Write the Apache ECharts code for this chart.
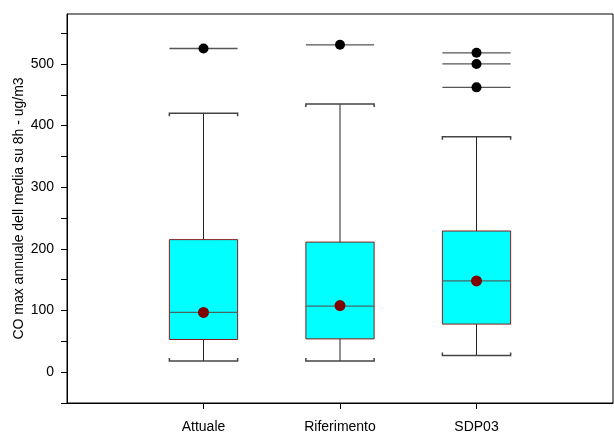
<!DOCTYPE html>
<html><head><meta charset="utf-8">
<script src="https://cdn.jsdelivr.net/npm/echarts@6/dist/echarts.min.js"></script>
<style>html,body{margin:0;padding:0;background:#fff}#c{width:614px;height:446px}</style>
</head><body><div id="c"></div>
<script>
const categories = ['Attuale', 'Riferimento', 'SDP03'];
const whiskerLow = [18, 18, 27];
const q1 = [53, 54, 78];
const median = [97, 107, 148];
const q3 = [215, 211, 229];
const whiskerHigh = [420, 435, 382];
const means = [97, 108, 148];
const outliers = [[525], [531], [518, 500, 462]];
const yLabelValues = [0, 100, 200, 300, 400, 500];
const yTickValues = [-50, 0, 50, 100, 150, 200, 250, 300, 350, 400, 450, 500, 550];
const yTitle = 'CO max annuale dell media su 8h - ug/m3';

const FONT = '"Liberation Sans", Arial, sans-serif';
const boxData = categories.map((c, i) => [i + 1, whiskerLow[i], q1[i], median[i], q3[i], whiskerHigh[i]]);
const meanData = categories.map((c, i) => [i + 1, means[i]]);
const outData = [];
outliers.forEach((arr, i) => arr.forEach(v => outData.push([i + 1, v])));

const BOXW = 0.5;

function renderBox(params, api) {
  const x = api.value(0);
  const pLow = api.coord([x, api.value(1)]);
  const pQ1 = api.coord([x, api.value(2)]);
  const pMed = api.coord([x, api.value(3)]);
  const pQ3 = api.coord([x, api.value(4)]);
  const pHigh = api.coord([x, api.value(5)]);
  const hw = api.size([BOXW, 0])[0] / 2;
  const cx = pMed[0];
  const lineStyle = { stroke: '#222', lineWidth: 1 };
  return {
    type: 'group',
    children: [
      { type: 'line', shape: { x1: cx, y1: pLow[1], x2: cx, y2: pQ1[1] }, style: lineStyle },
      { type: 'line', shape: { x1: cx, y1: pQ3[1], x2: cx, y2: pHigh[1] }, style: lineStyle },
      { type: 'polyline', shape: { points: [[cx - hw, pLow[1] - 3], [cx - hw, pLow[1]], [cx + hw, pLow[1]], [cx + hw, pLow[1] - 3]] }, style: { stroke: '#444', lineWidth: 1.5, fill: null } },
      { type: 'polyline', shape: { points: [[cx - hw, pHigh[1] + 3], [cx - hw, pHigh[1]], [cx + hw, pHigh[1]], [cx + hw, pHigh[1] + 3]] }, style: { stroke: '#444', lineWidth: 1.5, fill: null } },
      { type: 'rect', shape: { x: cx - hw, y: pQ3[1], width: 2 * hw, height: pQ1[1] - pQ3[1] }, style: { fill: '#00FFFF', stroke: '#8B1A1A', lineWidth: 1 } },
      { type: 'line', shape: { x1: cx - hw, y1: pMed[1], x2: cx + hw, y2: pMed[1] }, style: { stroke: '#4a6464', lineWidth: 1.3 } }
    ]
  };
}

function renderOutlier(params, api) {
  const x = api.value(0);
  const p = api.coord([x, api.value(1)]);
  const hw = api.size([BOXW, 0])[0] / 2;
  return {
    type: 'group',
    children: [
      { type: 'line', shape: { x1: p[0] - hw, y1: p[1], x2: p[0] + hw, y2: p[1] }, style: { stroke: '#555', lineWidth: 1.3 } },
      { type: 'circle', shape: { cx: p[0], cy: p[1], r: 5 }, style: { fill: '#000' } }
    ]
  };
}

const chart = echarts.init(document.getElementById('c'), null, { renderer: 'canvas' });
chart.setOption({
  animation: false,
  backgroundColor: '#fff',
  textStyle: { fontFamily: FONT },
  grid: { left: 67, right: 1, top: 14, bottom: 43, show: true, borderColor: '#000', borderWidth: 1, backgroundColor: 'transparent', containLabel: false, outerBoundsMode: 'none' },
  xAxis: {
    type: 'value', min: 0, max: 4,
    axisLine: { show: true, onZero: false, lineStyle: { color: '#000', width: 1 } },
    splitLine: { show: false },
    axisTick: { show: true, customValues: [1, 2, 3], length: 6, lineStyle: { color: '#000' } },
    axisLabel: { customValues: [1, 2, 3], formatter: v => categories[Math.round(v) - 1] || '', color: '#000', fontSize: 14, margin: 17, fontFamily: FONT }
  },
  yAxis: {
    type: 'value', min: -50, max: 581,
    name: yTitle, nameLocation: 'middle', nameGap: 41, nameRotate: 90, nameMoveOverlap: false,
    nameTextStyle: { color: '#000', fontSize: 14, fontFamily: FONT },
    axisLine: { show: true, onZero: false, lineStyle: { color: '#000', width: 1 } },
    splitLine: { show: false },
    axisTick: { show: true, customValues: yTickValues, length: 6, lineStyle: { color: '#000' } },
    axisLabel: { customValues: yLabelValues, color: '#000', fontSize: 14, margin: 13, fontFamily: FONT }
  },
  series: [
    { type: 'custom', renderItem: renderBox, data: boxData, encode: { x: 0, y: [1, 2, 3, 4, 5] }, z: 2 },
    { type: 'custom', renderItem: renderOutlier, data: outData, encode: { x: 0, y: 1 }, z: 3 },
    { type: 'scatter', data: meanData, symbol: 'circle', symbolSize: 11, itemStyle: { color: '#800000', opacity: 1 }, z: 4 }
  ]
});
</script></body></html>
